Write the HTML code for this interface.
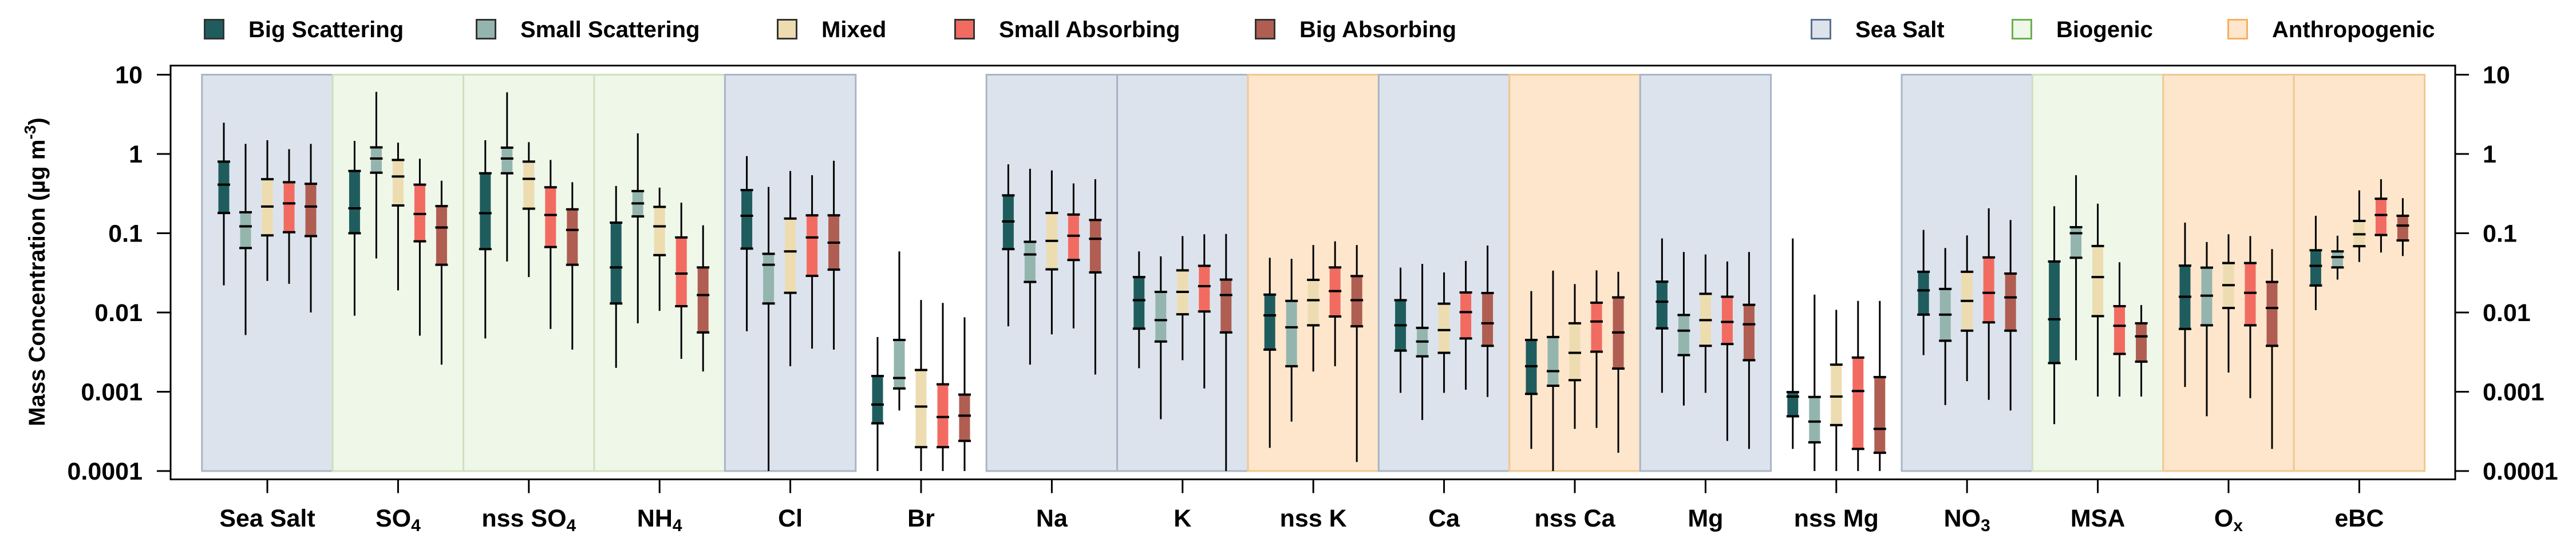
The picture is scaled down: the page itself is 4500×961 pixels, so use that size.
<!DOCTYPE html>
<html><head><meta charset="utf-8"><style>
html,body{margin:0;padding:0;background:#fff;}
svg{display:block;font-family:"Liberation Sans",Arial,sans-serif;font-weight:bold;}
</style></head>
<body>
<svg id="chart" width="4500" height="961" viewBox="0 0 4500 961" xmlns="http://www.w3.org/2000/svg">
<g id="bands"></g>
<g id="boxes"></g>
<g id="axes"></g>
<g id="legend"></g>
<text transform="translate(78,475) rotate(-90)" text-anchor="middle" font-size="40" fill="#000">Mass Concentration (µg m<tspan dy="-16" font-size="28">-3</tspan><tspan dy="16">)</tspan></text>
</svg>
<script>
const categories = ["Sea Salt","SO4","nss SO4","NH4","Cl","Br","Na","K","nss K","Ca","nss Ca","Mg","nss Mg","NO3","MSA","Ox","eBC"];
const categorySubs = ["","4","4","4","","","","","","","","","","3","","x",""];
const categoryLabelBase = ["Sea Salt","SO","nss SO","NH","Cl","Br","Na","K","nss K","Ca","nss Ca","Mg","nss Mg","NO","MSA","O","eBC"];
const bandClass = ["sea","bio","bio","bio","sea","none","sea","sea","anth","sea","anth","sea","none","sea","bio","anth","anth"];
const seriesNames = ["Big Scattering","Small Scattering","Mixed","Small Absorbing","Big Absorbing"];
const yTicks = [10,1,0.1,0.01,0.001,0.0001];
const yTickLabels = ["10","1","0.1","0.01","0.001","0.0001"];
// per series: [category][min,q1,median,q3,max]
const bigScattering = [
 [0.022,0.18,0.41,0.80,2.48],[0.0091,0.10,0.206,0.61,1.46],[0.0047,0.063,0.179,0.57,1.49],[0.0020,0.013,0.037,0.136,0.395],
 [0.0058,0.064,0.166,0.35,0.94],[0.0001,0.0004,0.00069,0.00158,0.0049],[0.0067,0.063,0.141,0.30,0.74],[0.00198,0.00625,0.0143,0.028,0.059],
 [0.000196,0.0034,0.0092,0.0168,0.049],[0.00097,0.0033,0.0069,0.0143,0.0368],[0.00019,0.00094,0.0021,0.0045,0.0186],[0.00097,0.0063,0.0137,0.0245,0.086],
 [0.00019,0.00049,0.00087,0.00099,0.086],[0.0029,0.0094,0.019,0.0326,0.11],[0.00039,0.0023,0.0082,0.044,0.219],[0.00115,0.0062,0.0158,0.039,0.136],
 [0.0107,0.0219,0.0388,0.061,0.166]];
const smallScattering = [
 [0.0052,0.065,0.122,0.184,1.34],[0.048,0.58,0.875,1.21,6.07],[0.044,0.57,0.875,1.2,6.0],[0.0073,0.163,0.238,0.34,1.82],
 [0.0001,0.013,0.040,0.055,0.384],[0.00058,0.0011,0.00149,0.0045,0.059],[0.0022,0.0243,0.054,0.078,0.65],[0.00045,0.0043,0.008,0.0182,0.051],
 [0.00042,0.0021,0.0065,0.014,0.0475],[0.00044,0.0028,0.0043,0.0064,0.041],[0.0001,0.00119,0.00182,0.0049,0.0337],[0.00067,0.0029,0.0059,0.0093,0.058],
 [0.0001,0.00023,0.00042,0.00086,0.0168],[0.00068,0.0044,0.0094,0.0198,0.065],[0.0025,0.049,0.10,0.119,0.54],[0.00049,0.0069,0.0163,0.0368,0.0775],
 [0.026,0.037,0.05,0.059,0.093]];
const mixed = [
 [0.025,0.094,0.217,0.48,1.49],[0.019,0.224,0.52,0.84,1.39],[0.028,0.204,0.485,0.80,1.41],[0.0105,0.053,0.122,0.215,0.376],
 [0.0021,0.0177,0.059,0.153,0.61],[0.0001,0.0002,0.00065,0.00188,0.0144],[0.0053,0.035,0.080,0.18,0.62],[0.0025,0.0095,0.0182,0.034,0.092],
 [0.0018,0.0069,0.0143,0.0258,0.071],[0.00097,0.0031,0.006,0.0129,0.032],[0.00034,0.0014,0.0031,0.0073,0.0228],[0.00097,0.0038,0.008,0.0172,0.054],
 [0.0001,0.00038,0.00087,0.0022,0.0108],[0.00136,0.0059,0.014,0.0326,0.094],[0.00087,0.009,0.028,0.069,0.236],[0.00175,0.0114,0.0221,0.042,0.097],
 [0.0434,0.0686,0.097,0.143,0.347]];
const smallAbsorbing = [
 [0.023,0.103,0.238,0.44,1.15],[0.0051,0.079,0.175,0.41,0.87],[0.0062,0.067,0.17,0.38,0.84],[0.0026,0.012,0.031,0.0885,0.243],
 [0.0035,0.029,0.0885,0.168,0.54],[0.0001,0.0002,0.00048,0.00124,0.0132],[0.0063,0.046,0.093,0.172,0.425],[0.0011,0.0103,0.0215,0.0388,0.097],
 [0.0021,0.0089,0.0186,0.037,0.079],[0.00106,0.0047,0.0101,0.0179,0.0447],[0.00035,0.0032,0.0077,0.0133,0.034],[0.00024,0.004,0.0076,0.0158,0.044],
 [0.0001,0.00019,0.00102,0.0027,0.014],[0.00079,0.0075,0.0177,0.0495,0.206],[0.00087,0.003,0.0068,0.012,0.043],[0.00083,0.0069,0.0177,0.042,0.092],
 [0.057,0.095,0.17,0.272,0.48]];
const bigAbsorbing = [
 [0.010,0.092,0.217,0.42,1.34],[0.0022,0.040,0.118,0.22,0.46],[0.0034,0.040,0.11,0.20,0.44],[0.0018,0.0056,0.0166,0.037,0.126],
 [0.0034,0.0347,0.076,0.168,0.82],[0.0001,0.00024,0.0005,0.00092,0.0087],[0.00165,0.032,0.085,0.147,0.48],[0.0001,0.0056,0.0166,0.026,0.098],
 [0.00013,0.0067,0.0143,0.0288,0.071],[0.00086,0.0038,0.0073,0.0176,0.070],[0.00017,0.00196,0.0056,0.0155,0.0326],[0.00019,0.0025,0.0071,0.0125,0.058],
 [0.0001,0.00017,0.00034,0.00153,0.014],[0.00058,0.0059,0.0155,0.031,0.147],[0.00087,0.0024,0.005,0.0073,0.0124],[0.00019,0.0038,0.0114,0.0243,0.063],
 [0.0515,0.081,0.125,0.166,0.277]];
const allSeries = [bigScattering, smallScattering, mixed, smallAbsorbing, bigAbsorbing];
const seriesColors = ["#1f5c5e","#94b5ae","#ecdcb0","#f26b61","#b05e52"];
const bandFill = {sea:"#dce3ec", bio:"#eff7e9", anth:"#fde6cc"};
const bandEdge = {sea:"#a9b5c6", bio:"#cfe0c0", anth:"#f0c890"};

const NS="http://www.w3.org/2000/svg";
function mk(tag, attrs, parent){const e=document.createElementNS(NS,tag);for(const k in attrs)e.setAttribute(k,attrs[k]);parent.appendChild(e);return e;}
const plotL=298, plotR=4289, plotT=114.6, plotB=837.6;
const x0=467, step=228.4;
function xCat(i){return x0+i*step;}
function yVal(v){return 130.5+(1-Math.log10(v))*138.5;}
const yBottom=yVal(0.0001), yTop=yVal(10);
const offsets=[-76,-38,0,38,76];

const bands=document.getElementById('bands');
categories.forEach((c,i)=>{
  const cls=bandClass[i]; if(cls==="none") return;
  const r=mk('rect',{x:xCat(i)-step/2,y:yTop,width:step,height:yBottom-yTop,fill:bandFill[cls],stroke:bandEdge[cls],'stroke-width':3},bands);
  
  
});

const boxes=document.getElementById('boxes');
allSeries.forEach((ser,s)=>{
  ser.forEach((d,i)=>{
    const cx=xCat(i)+offsets[s];
    const g=mk('g',{},boxes);
    
    
    const [mn,q1,md,q3,mx]=d;
    mk('line',{x1:cx,x2:cx,y1:yVal(mx),y2:Math.min(yVal(mn),yBottom),stroke:'#000','stroke-width':3},g);
    mk('rect',{x:cx-9.5,y:yVal(q3),width:19,height:yVal(q1)-yVal(q3),fill:seriesColors[s]},g);
    [q1,md,q3].forEach(v=>mk('line',{x1:cx-11,x2:cx+11,y1:yVal(v),y2:yVal(v),stroke:'#000','stroke-width':4},g));
  });
});

const axes=document.getElementById('axes');
const frame=mk('rect',{x:plotL,y:plotT,width:plotR-plotL,height:plotB-plotT,fill:'none',stroke:'#000','stroke-width':3},axes);


yTicks.forEach((v,k)=>{
  const y=yVal(v);
  mk('line',{x1:plotL-24,x2:plotL,y1:y,y2:y,stroke:'#000','stroke-width':3},axes);
  mk('line',{x1:plotR,x2:plotR+24,y1:y,y2:y,stroke:'#000','stroke-width':3},axes);
  const t=mk('text',{x:249,y:y+15,'text-anchor':'end','font-size':43,fill:'#000'},axes);
  t.textContent=yTickLabels[k];
  
  
  const t2=mk('text',{x:4337,y:y+15,'text-anchor':'start','font-size':43,fill:'#000'},axes);
  t2.textContent=yTickLabels[k];
  
  
});
categories.forEach((c,i)=>{
  const x=xCat(i);
  mk('line',{x1:x,x2:x,y1:plotB,y2:plotB+24,stroke:'#000','stroke-width':3},axes);
  const t=mk('text',{x:x,y:920,'text-anchor':'middle','font-size':43,fill:'#000'},axes);
  
  
  t.appendChild(document.createTextNode(categoryLabelBase[i]));
  if(categorySubs[i]){
    const sp=mk('tspan',{'font-size':30,dy:8},t);
    sp.textContent=categorySubs[i];
  }
});

const legend=document.getElementById('legend');
const legendItems=[
 ["Big Scattering",356,seriesColors[0],"#333"],["Small Scattering",831,seriesColors[1],"#333"],["Mixed",1357,seriesColors[2],"#333"],
 ["Small Absorbing",1667,seriesColors[3],"#333"],["Big Absorbing",2192,seriesColors[4],"#333"],
 ["Sea Salt",3163,bandFill.sea,"#5a7090"],["Biogenic",3514,bandFill.bio,"#6ab04c"],["Anthropogenic",3891,bandFill.anth,"#f5b060"]];
legendItems.forEach(it=>{
  const g=mk('g',{},legend);
  
  
  mk('rect',{x:it[1]+1.5,y:34.5,width:33,height:33,fill:it[2],stroke:it[3],'stroke-width':3},g);
  const t=mk('text',{x:it[1]+78,y:65,'font-size':40,fill:'#000'},g);
  t.textContent=it[0];
});
</script>
</body></html>
